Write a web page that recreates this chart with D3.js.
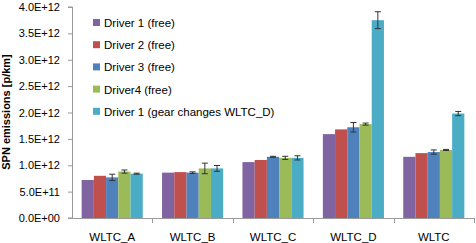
<!DOCTYPE html>
<html lang="en">
<head>
    <meta charset="UTF-8">
    <title>SPN emissions</title>
    <script src="https://cdnjs.cloudflare.com/ajax/libs/d3/7.8.5/d3.min.js"></script>
    <style>
        body { margin: 0; background: #fff; }
        text { font-family: "Liberation Sans", Arial, sans-serif; }
    </style>
</head>
<body>
    <div id="wrapper"></div>
    <script>
        // data (values in 1E12 p/km)
        const cycles = ['WLTC_A', 'WLTC_B', 'WLTC_C', 'WLTC_D', 'WLTC']
        const drivers = ['Driver 1 (free)', 'Driver 2 (free)', 'Driver 3 (free)', 'Driver4 (free)', 'Driver 1 (gear changes WLTC_D)']
        const colors = ['#8064A2', '#C0504D', '#4F81BD', '#9BBB59', '#4BACC6']
        const driver1 = [0.72, 0.86, 1.06, 1.59, 1.16]
        const driver2 = [0.80, 0.87, 1.10, 1.68, 1.23]
        const driver3 = [0.77, 0.86, 1.16, 1.72, 1.25]
        const driver4 = [0.88, 0.94, 1.14, 1.78, 1.29]
        const driver1Gear = [0.84, 0.94, 1.14, 3.75, 1.98]
        // error bar half-heights (null = no error bar)
        const err1 = [null, null, null, null, null]
        const err2 = [null, null, null, null, null]
        const err3 = [0.06, 0.015, 0.01, 0.09, 0.04]
        const err4 = [0.03, 0.10, 0.03, 0.02, 0.01]
        const err1Gear = [0.01, 0.055, 0.04, 0.16, 0.04]
        const yTicks = [0, 0.5, 1, 1.5, 2, 2.5, 3, 3.5, 4]

        const series = [driver1, driver2, driver3, driver4, driver1Gear]
        const errors = [err1, err2, err3, err4, err1Gear]

        const dimensions = {
            width: 476,
            height: 243,
            margin: { top: 7, right: 2, bottom: 25, left: 72 }
        }
        dimensions.boundedWidth = dimensions.width - dimensions.margin.left - dimensions.margin.right
        dimensions.boundedHeight = dimensions.height - dimensions.margin.top - dimensions.margin.bottom

        const rows = []
        series.forEach((s, si) => s.forEach((v, ci) => rows.push({
            cycle: cycles[ci], driver: drivers[si], si, value: v, err: errors[si][ci]
        })))

        const svg = d3.select('#wrapper')
            .append('svg')
                .attr('width', dimensions.width)
                .attr('height', dimensions.height)

        const bounds = svg.append('g')
            .attr('transform', `translate(${dimensions.margin.left},${dimensions.margin.top})`)

        const xScale = d3.scaleBand()
            .domain(cycles)
            .range([0, dimensions.boundedWidth])

        const innerScale = d3.scaleBand()
            .domain(d3.range(drivers.length))
            .range([xScale.bandwidth() * 0.12, xScale.bandwidth() * 0.88])

        const yScale = d3.scaleLinear()
            .domain([0, 4])
            .range([dimensions.boundedHeight, 0])

        // bars
        bounds.selectAll('rect.bar')
            .data(rows)
            .join('rect')
                .attr('class', 'bar')
                .attr('x', d => xScale(d.cycle) + innerScale(d.si))
                .attr('width', innerScale.bandwidth())
                .attr('y', d => yScale(d.value))
                .attr('height', d => yScale(0) - yScale(d.value))
                .attr('fill', d => colors[d.si])

        // error bars
        const errRows = rows.filter(d => d.err != null)
        const cx = d => xScale(d.cycle) + innerScale(d.si) + innerScale.bandwidth() / 2
        const eb = bounds.selectAll('g.err')
            .data(errRows)
            .join('g')
                .attr('class', 'err')
                .attr('stroke', '#333')
                .attr('stroke-width', 1)
        eb.append('line')
            .attr('x1', cx).attr('x2', cx)
            .attr('y1', d => yScale(d.value + d.err))
            .attr('y2', d => yScale(d.value - d.err))
        eb.append('line')
            .attr('x1', d => cx(d) - 3).attr('x2', d => cx(d) + 3)
            .attr('y1', d => yScale(d.value + d.err))
            .attr('y2', d => yScale(d.value + d.err))
        eb.append('line')
            .attr('x1', d => cx(d) - 3).attr('x2', d => cx(d) + 3)
            .attr('y1', d => yScale(d.value - d.err))
            .attr('y2', d => yScale(d.value - d.err))

        // y axis
        const yAxisGenerator = d3.axisLeft(yScale)
            .tickValues(yTicks)
            .tickSize(4)
            .tickPadding(8)
            .tickFormat(d => d === 0 ? '0.0E+00' : (d >= 1 ? d3.format('.1f')(d) + 'E+12' : d3.format('.1f')(d * 10) + 'E+11'))
        const yAxis = bounds.append('g').call(yAxisGenerator)
        yAxis.select('.domain').attr('stroke', '#999').attr('d', `M-4,${dimensions.boundedHeight}H0.5V0H-4`)
        yAxis.selectAll('.tick line').attr('stroke', '#999')
        yAxis.selectAll('.tick text').attr('fill', '#000').style('font-size', '11px')

        yAxis.append('text')
            .attr('x', -105)
            .attr('y', -62)
            .attr('transform', 'rotate(-90)')
            .attr('text-anchor', 'middle')
            .attr('fill', '#000')
            .style('font-size', '11px')
            .style('font-weight', 'bold')
            .text('SPN emissions  [p/km]')

        // x axis
        const xAxis = bounds.append('g')
            .attr('transform', `translate(0,${dimensions.boundedHeight})`)
        xAxis.append('line')
            .attr('x1', 0).attr('x2', dimensions.boundedWidth)
            .attr('y1', 0.5).attr('y2', 0.5)
            .attr('stroke', '#999')
        xAxis.selectAll('line.sep')
            .data(cycles)
            .join('line')
                .attr('class', 'sep')
                .attr('x1', d => Math.round(xScale(d) + xScale.bandwidth()) + 0.5)
                .attr('x2', d => Math.round(xScale(d) + xScale.bandwidth()) + 0.5)
                .attr('y1', 0).attr('y2', 5)
                .attr('stroke', '#999')
        xAxis.selectAll('text.cat')
            .data(cycles)
            .join('text')
                .attr('class', 'cat')
                .attr('x', d => xScale(d) + xScale.bandwidth() / 2)
                .attr('y', 23)
                .attr('text-anchor', 'middle')
                .style('font-size', '11.5px')
                .text(d => d)

        // legend
        const legend = svg.append('g')
            .attr('transform', 'translate(93,23)')
        const items = legend.selectAll('g')
            .data(drivers)
            .join('g')
                .attr('transform', (d, i) => `translate(0,${i * 22.2})`)
        items.append('rect')
            .attr('x', 0).attr('y', -4)
            .attr('width', 7).attr('height', 7)
            .attr('fill', (d, i) => colors[i])
        items.append('text')
            .attr('x', 11)
            .attr('y', 4)
            .style('font-size', '11.5px')
            .text(d => d)
    </script>
</body>
</html>
